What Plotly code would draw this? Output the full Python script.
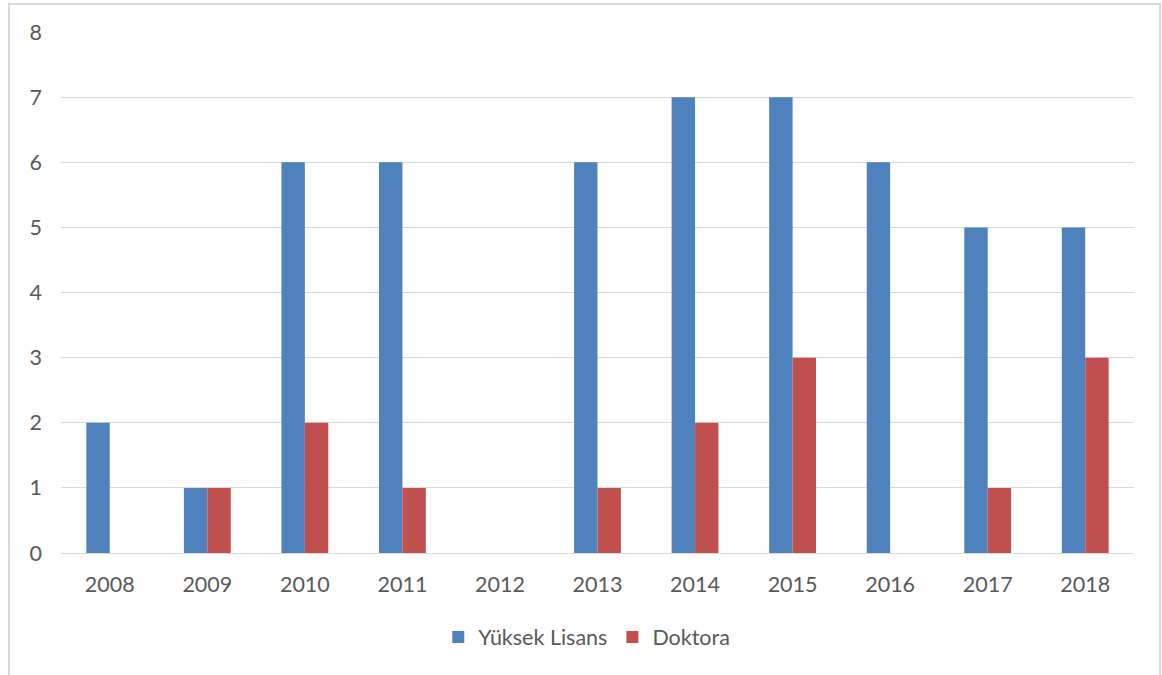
import plotly.graph_objects as go

years = ["2008", "2009", "2010", "2011", "2012", "2013", "2014", "2015", "2016", "2017", "2018"]
yuksek_lisans = [2, 1, 6, 6, 0, 6, 7, 7, 6, 5, 5]
doktora = [0, 1, 2, 1, 0, 1, 2, 3, 0, 1, 3]
y_ticks = [0, 1, 2, 3, 4, 5, 6, 7, 8]

W, H = 1162, 675
L, R, T, B = 61, 28, 32, 122
pw, ph = W - L - R, H - T - B

def px_x(p):
    return (p - L) / pw

def px_y(p):
    return (H - B - p) / ph

fig = go.Figure()
fig.add_trace(go.Bar(name="Yüksek Lisans", x=years, y=yuksek_lisans, marker_color="#4F81BD", marker_line_width=0))
fig.add_trace(go.Bar(name="Doktora", x=years, y=doktora, marker_color="#C0504D", marker_line_width=0))

font_family = "Lato, 'Open Sans', sans-serif"
fs = 21.5
fig.update_layout(
    width=W, height=H,
    margin=dict(l=L, r=R, t=T, b=B),
    paper_bgcolor="white", plot_bgcolor="white",
    barmode="group", bargap=0.52, bargroupgap=0,
    font=dict(family=font_family, size=fs, color="#595959"),
    showlegend=True,
    legend=dict(orientation="h", x=0.49, xanchor="center", y=px_y(637), yanchor="middle",
                font=dict(size=fs, color="#595959"), itemwidth=30, traceorder="normal"),
    xaxis=dict(type="category", showgrid=False, showline=False, zeroline=False,
               ticks="", ticklabelstandoff=16, tickfont=dict(size=fs, color="#595959")),
    yaxis=dict(range=[0, 8], tickvals=y_ticks, showgrid=True, gridcolor="#D9D9D9", gridwidth=1,
               zeroline=True, zerolinecolor="#D9D9D9", zerolinewidth=1, showline=False,
               ticks="", ticklabelstandoff=18, tickfont=dict(size=fs, color="#595959")),
    shapes=[dict(type="rect", xref="paper", yref="paper",
                 x0=px_x(9), x1=px_x(1160), y0=px_y(690), y1=px_y(4),
                 line=dict(color="#D9D9D9", width=2), layer="below")],
)

fig.write_html("out.html")
